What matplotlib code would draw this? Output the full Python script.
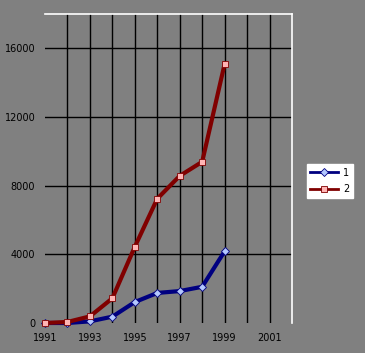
import matplotlib
matplotlib.use("Agg")
import matplotlib.pyplot as plt

years = [1991, 1992, 1993, 1994, 1995, 1996, 1997, 1998, 1999]
series_1 = [0, 0, 95, 370, 1220, 1750, 1860, 2110, 4180]
series_2 = [0, 60, 385, 1440, 4440, 7240, 8570, 9390, 15090]
x_ticks = [1991, 1993, 1995, 1997, 1999, 2001]
y_ticks = [0, 4000, 8000, 12000, 16000]

plt.rcParams.update({"font.size": 7, "font.family": "DejaVu Sans"})
gray = "#808080"

fig = plt.figure(figsize=(3.65, 3.53), dpi=100, facecolor=gray)
ax = fig.add_axes([45 / 365, 30 / 353, 247 / 365, 309 / 353], facecolor=gray)

for yr in range(1992, 2002):
    ax.axvline(yr, color="black", lw=1, zorder=1)
for v in y_ticks[1:]:
    ax.axhline(v, color="black", lw=1, zorder=1)

ax.plot(years, series_1, color="#000080", lw=3, marker="D", ms=4,
        mfc="#b4c8ff", mec="#000080", mew=0.6, label="1", clip_on=False, zorder=3)
ax.plot(years, series_2, color="#800000", lw=3, marker="s", ms=5,
        mfc="#ffb4b4", mec="#800000", mew=0.6, label="2", clip_on=False, zorder=4)

ax.set_xlim(1991, 2002)
ax.set_ylim(0, 18000)
ax.set_xticks(x_ticks)
ax.set_yticks(y_ticks)
ax.tick_params(length=0, pad=7, colors="black")
for side in ["left", "bottom"]:
    ax.spines[side].set_visible(False)
for side in ["top", "right"]:
    ax.spines[side].set_color("white")
    ax.spines[side].set_linewidth(1.2)

leg = fig.legend(loc="center", bbox_to_anchor=(330 / 365, 172 / 353), frameon=True,
                 fancybox=False, edgecolor="white", facecolor="white", framealpha=1,
                 handlelength=2.8, borderpad=0.35, labelspacing=0.7, handletextpad=0.6,
                 borderaxespad=0)
for h in leg.get_lines():
    h.set_linewidth(2)

fig.savefig("out.png", dpi=100, facecolor=gray)
